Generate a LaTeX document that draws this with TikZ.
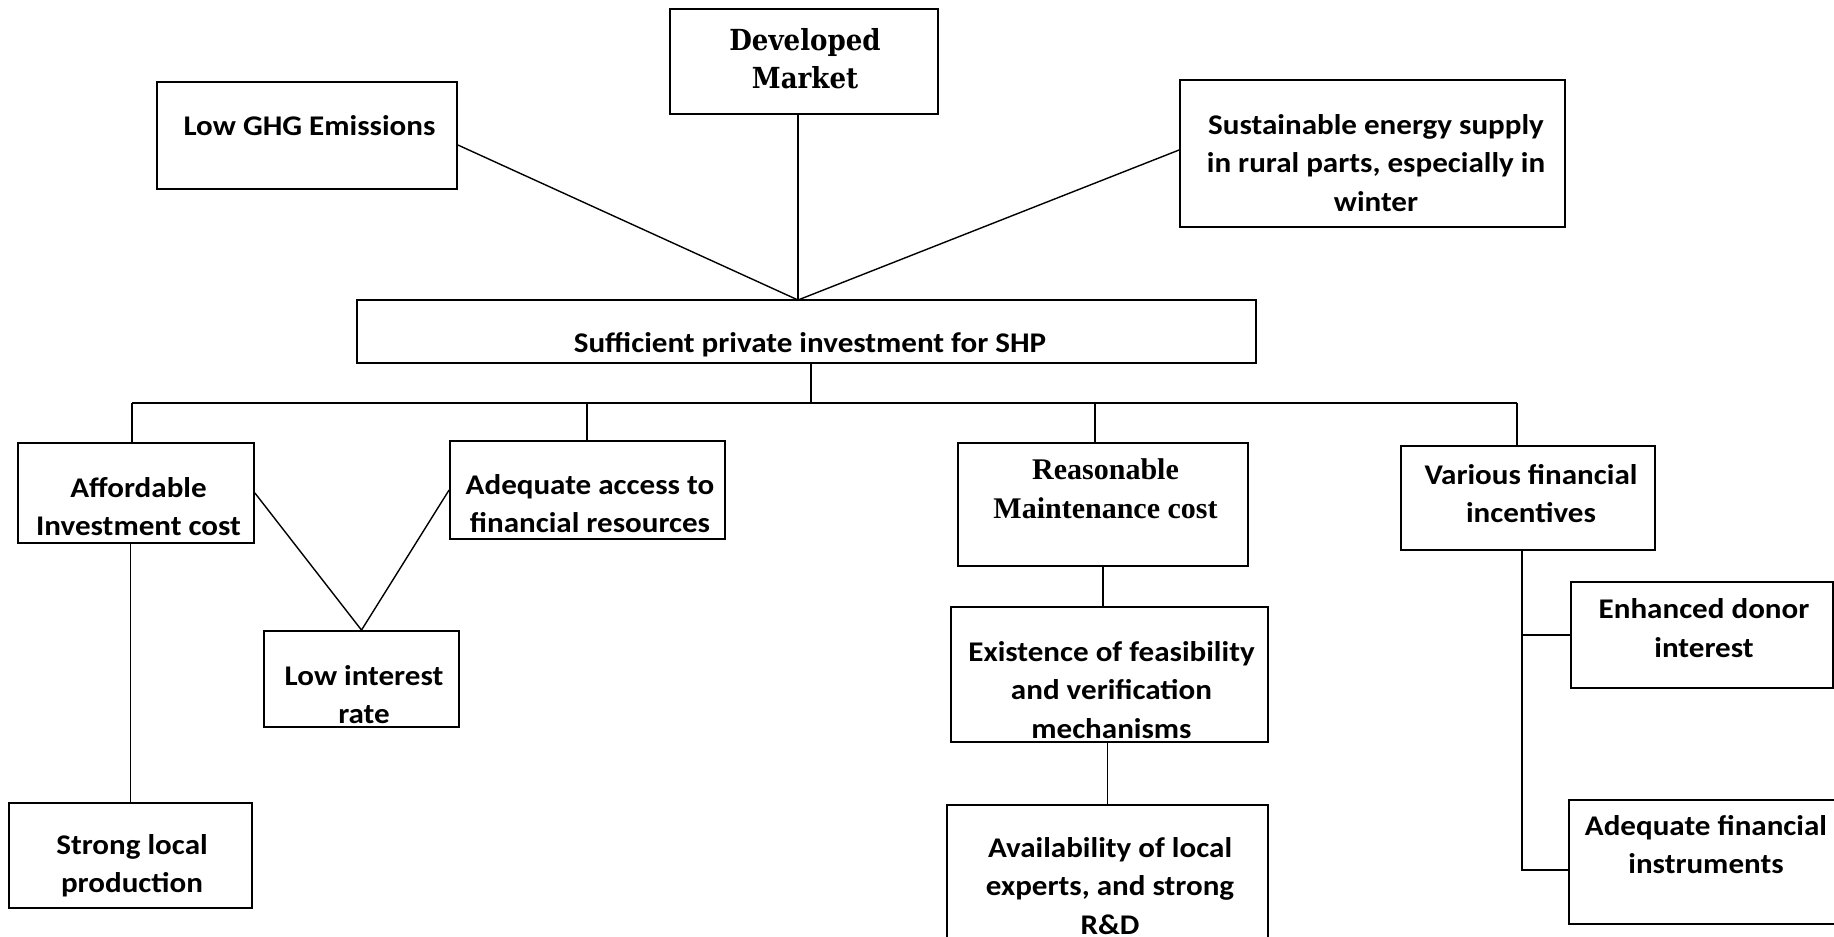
\documentclass[tikz,border=0pt]{standalone}
\usepackage{fontspec}
\setmainfont{Carlito}[FakeStretch=1.09]
\newfontfamily\dmfont[FakeStretch=0.9]{DejaVu Serif}
\newfontfamily\tnrfont{Liberation Serif}
\usetikzlibrary{calc}
\begin{document}
\begin{tikzpicture}[x=1pt,y=-1pt,
  box/.style={draw, line width=1.8pt, rectangle, inner sep=0pt},
  txt/.style={align=center, inner sep=0pt, font=\bfseries\fontsize{28.5}{38.5}\selectfont},
  dmtxt/.style={align=center, inner sep=0pt, font=\dmfont\bfseries\fontsize{29}{38}\selectfont},
  tnrtxt/.style={align=center, inner sep=0pt, font=\tnrfont\bfseries\fontsize{30}{39}\selectfont},
  conn/.style={line width=1.4pt}]
\useasboundingbox (0,0) rectangle (1834,937);
\clip (0,0) rectangle (1834,937);
% boxes
\node[box, minimum width=268pt, minimum height=105pt] (dm) at (804,61.5) {};
\node[box, minimum width=300pt, minimum height=107pt] (lowghg) at (307,135.5) {};
\node[box, minimum width=385pt, minimum height=147pt] (sust) at (1372.5,153.5) {};
\node[box, minimum width=899pt, minimum height=63pt] (suff) at (806.5,331.5) {};
\node[box, minimum width=236pt, minimum height=100pt] (afford) at (136,493) {};
\node[box, minimum width=275pt, minimum height=98pt] (adeq) at (587.5,490) {};
\node[box, minimum width=195pt, minimum height=96pt] (lowint) at (361.5,679) {};
\node[box, minimum width=243pt, minimum height=105pt] (strong) at (130.5,855.5) {};
\node[box, minimum width=290pt, minimum height=123pt] (reas) at (1103,504.5) {};
\node[box, minimum width=317pt, minimum height=135pt] (exist) at (1109.5,674.5) {};
\node[box, minimum width=321pt, minimum height=145pt] (avail) at (1107.5,877.5) {};
\node[box, minimum width=254pt, minimum height=104pt] (various) at (1528,498) {};
\node[box, minimum width=262pt, minimum height=106pt] (enh) at (1702,635) {};
\node[box, minimum width=271pt, minimum height=124pt] (adfin) at (1704.5,862) {};
% texts
\node[dmtxt] (dmT) at (805,59) {Developed\\Market};
\node[txt] (lowghgT) at (309.5,126) {Low GHG Emissions};
\node[txt] (sustT) at (1376,163) {Sustainable energy supply\\in rural parts, especially in\\winter};
\node[txt] (suffT) at (810,345) {Sufficient private investment for SHP};
\node[txt] (affordT) at (138.5,506.5) {Affordable\\Investment cost};
\node[txt] (adeqT) at (590,503.5) {Adequate access to\\financial resources};
\node[txt] (lowintT) at (364,694.5) {Low interest\\rate};
\node[txt] (strongT) at (132,865.5) {Strong local\\production};
\node[tnrtxt] (reasT) at (1105.5,488.5) {Reasonable\\Maintenance cost};
\node[txt] (existT) at (1111.5,690) {Existence of feasibility\\and verification\\mechanisms};
\node[txt] (availT) at (1110,886) {Availability of local\\experts, and strong\\R\&D};
\node[txt] (variousT) at (1531,493.5) {Various financial\\incentives};
\node[txt] (enhT) at (1704,628) {Enhanced donor\\interest};
\node[txt] (adfinT) at (1706,844.5) {Adequate financial\\instruments};
% junction coordinates
\coordinate (hub) at (798,300);
\coordinate (busM) at (811,403);
\coordinate (busL) at (132,403);
\coordinate (busR) at (1517,403);
\coordinate (busA) at (587,403);
\coordinate (busB) at (1095,403);
\coordinate (vtop) at (1522,550);
\coordinate (venh) at (1522,635);
\coordinate (vfin) at (1522,870);
% connectors
\draw[conn] ($(lowghg.east)+(0,9.5)$) -- (hub);
\draw[conn] ($(sust.west)+(0,-3.5)$) -- (hub);
\draw[conn] (hub |- dm.south) -- (hub);
\draw[conn] (busM |- suff.south) -- (busM);
\draw[conn] (busL) -- (busR);
\draw[conn] (busL) -- (busL |- afford.north);
\draw[conn] (busA) -- (busA |- adeq.north);
\draw[conn] (busB) -- (busB |- reas.north);
\draw[conn] (busR) -- (busR |- various.north);
\draw[conn] (afford.east) -- (lowint.north) -- (adeq.west);
\draw[conn] (strong.north |- afford.south) -- (strong.north);
\draw[conn] (reas.south) -- (reas.south |- exist.north);
\draw[conn] (avail.north |- exist.south) -- (avail.north);
\draw[conn] (vtop) -- (vfin) -- (adfin.west |- vfin);
\draw[conn] (venh) -- (enh.west);
\end{tikzpicture}
\end{document}
